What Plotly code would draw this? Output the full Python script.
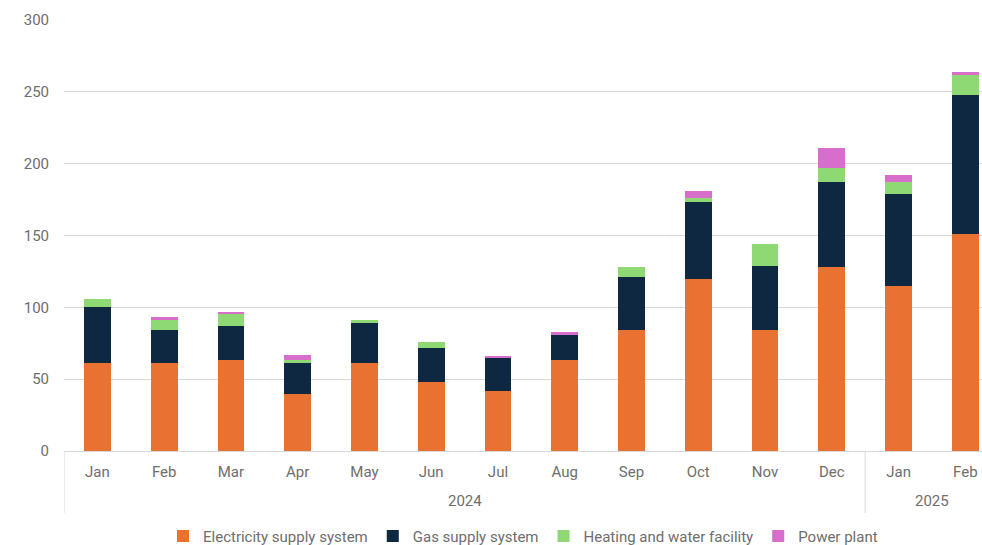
import plotly.graph_objects as go

years = ["2024"] * 12 + ["2025"] * 2
months = ["Jan", "Feb", "Mar", "Apr", "May", "Jun", "Jul", "Aug", "Sep", "Oct", "Nov", "Dec", "Jan", "Feb"]

electricity = [61, 61, 63, 40, 61, 48, 42, 63, 84, 120, 84, 128, 115, 151]
gas = [39, 23, 24, 21, 28, 24, 23, 18, 37, 53, 45, 59, 64, 97]
heating = [6, 7, 9, 2, 2, 4, 0, 0, 7, 3, 15, 10, 8, 14]
power = [0, 2, 1, 4, 0, 0, 1, 2, 0, 5, 0, 14, 5, 2]

series = [
    ("Electricity supply system", electricity, "#E97132"),
    ("Gas supply system", gas, "#0E2841"),
    ("Heating and water facility", heating, "#8ED973"),
    ("Power plant", power, "#D86ECC"),
]

cats = [f"{m} {y}" for m, y in zip(months, years)]

FONT = "Roboto, Arial, sans-serif"
GREY = "#d9d9d9"
TXT = "#6e6e6e"
fig = go.Figure()
for name, vals, col in series:
    fig.add_trace(go.Bar(x=cats, y=vals, name=name, marker_color=col, marker_line_width=0))

# year group labels and dividers
year_names = []
for y in years:
    if y not in year_names:
        year_names.append(y)
annotations = []
shapes = []
for yname in year_names:
    idx = [i for i, y in enumerate(years) if y == yname]
    annotations.append(dict(x=(idx[0] + idx[-1]) / 2, xref="x", y=-0.116, yref="paper",
                            text=yname, showarrow=False, yanchor="middle",
                            font=dict(size=15, color=TXT, family=FONT)))
    shapes.append(dict(type="line", xref="x", yref="paper", x0=idx[0] - 0.5, x1=idx[0] - 0.5,
                       y0=0, y1=-0.144, line=dict(color=GREY, width=1)))

fig.update_layout(
    barmode="stack",
    bargap=0.6,
    width=982, height=545,
    margin=dict(l=64, r=0, t=20, b=94, autoexpand=False),
    plot_bgcolor="white", paper_bgcolor="white",
    font=dict(family=FONT, size=15, color=TXT),
    legend=dict(orientation="h", x=0.5, xanchor="center", y=0.016, yref="container",
                yanchor="middle", traceorder="normal", font=dict(size=15, color=TXT),
                itemwidth=30),
    annotations=annotations,
    shapes=shapes,
    xaxis=dict(type="category", range=[-0.5, 13.25], showline=True, linecolor=GREY,
               linewidth=1, automargin=False, tickmode="array", tickvals=cats, ticktext=months,
               ticks="", ticklabelstandoff=7,
               tickfont=dict(size=15, color=TXT), showgrid=False),
    yaxis=dict(range=[0, 300], dtick=50, showgrid=True, gridcolor=GREY, gridwidth=1,
               zeroline=False, ticklabelstandoff=14, automargin=False,
               tickfont=dict(size=15, color=TXT)),
)
fig.write_html("out.html")
